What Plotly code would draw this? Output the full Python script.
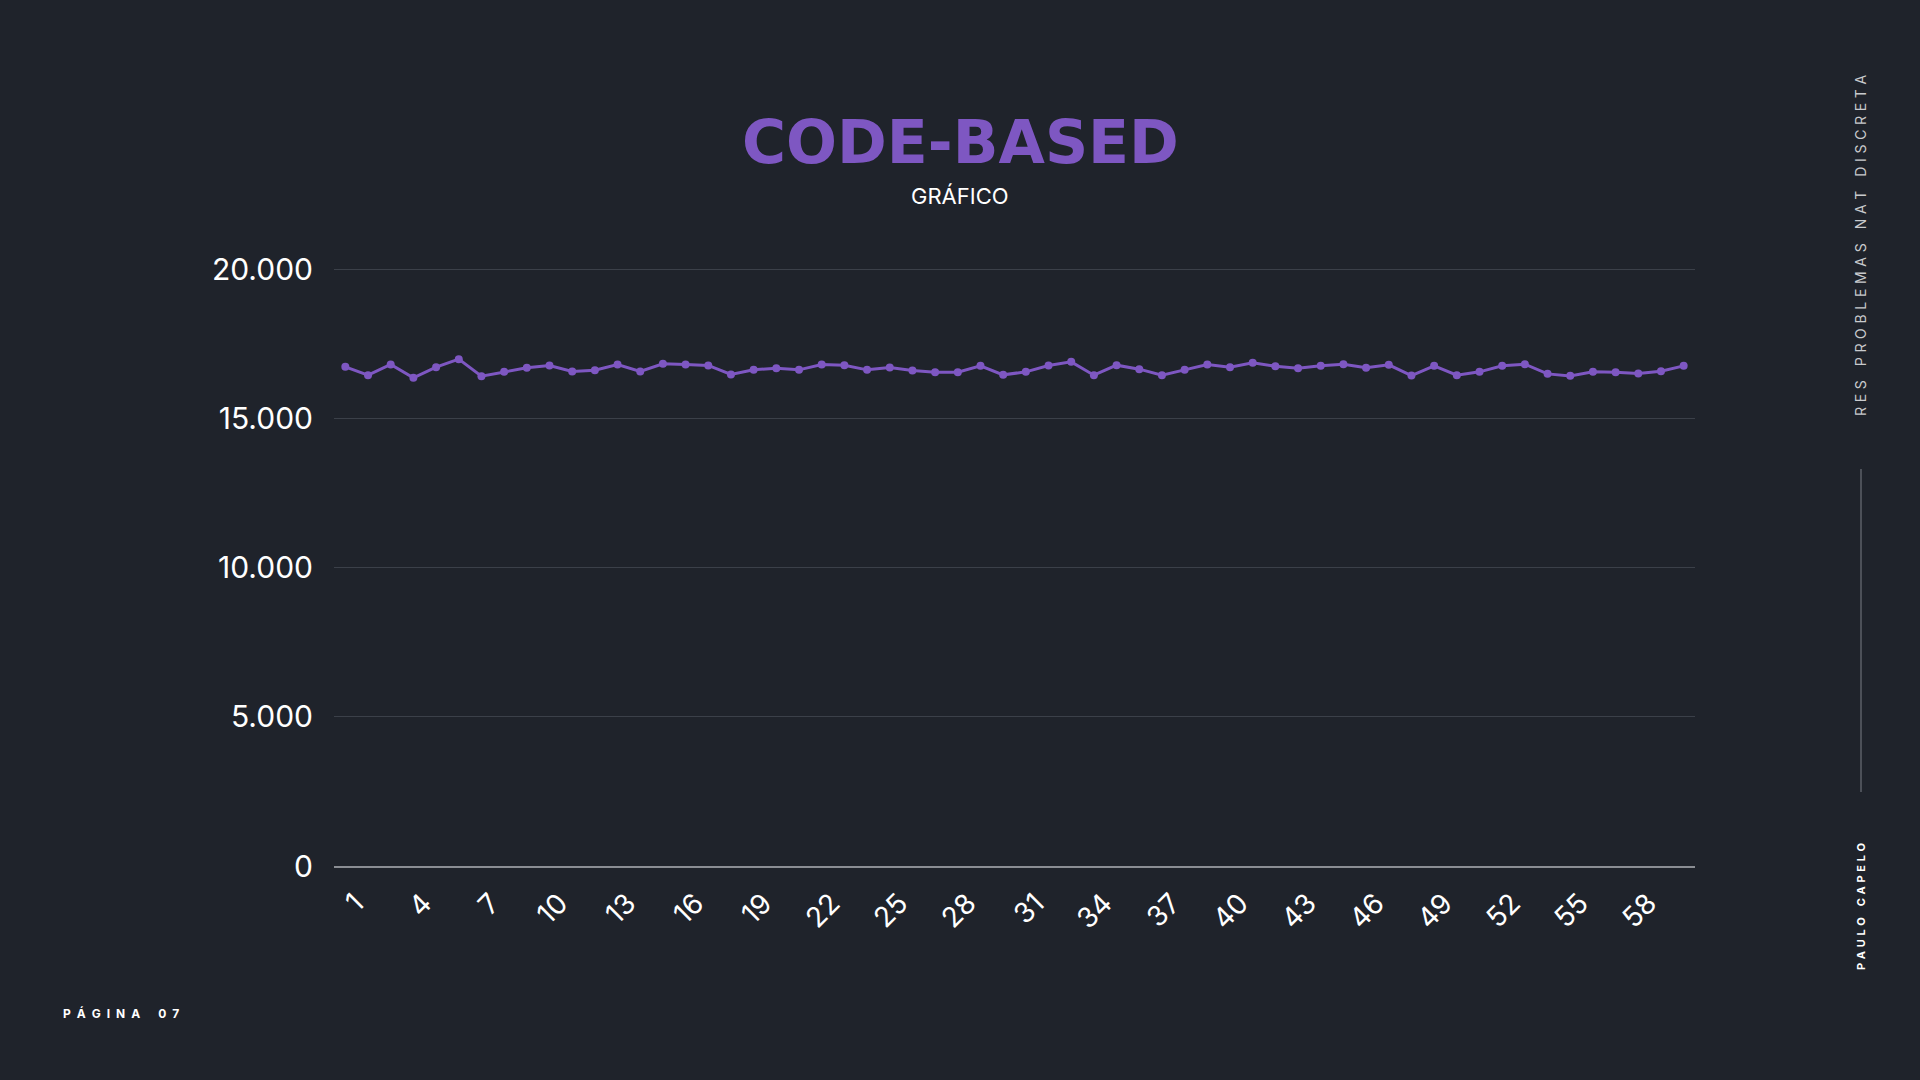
import plotly.graph_objects as go

# ---- data ----
categories = [str(i) for i in range(1, 61)]
values = [
    16727, 16448, 16807, 16358, 16717, 16985, 16415, 16560, 16694, 16774,
    16572, 16616, 16807, 16572, 16828, 16807, 16774, 16472, 16627, 16683,
    16627, 16807, 16784, 16627, 16706, 16605, 16549, 16549, 16761, 16459,
    16560, 16774, 16895, 16448, 16784, 16650, 16448, 16627, 16807, 16717,
    16862, 16750, 16683, 16761, 16817, 16694, 16795, 16437, 16761, 16448,
    16560, 16761, 16817, 16492, 16425, 16560, 16549, 16504, 16583, 16761,
]
y_ticks = [0, 5000, 10000, 15000, 20000]
x_tick_labels = [str(i) for i in range(1, 61, 3)]

BG = "#1f232b"
PURPLE = "#7e57c2"
FONT = "Inter"

L, R, T, B = 334, 225, 268, 214

fig = go.Figure()
fig.add_trace(go.Scatter(
    x=categories, y=values, mode="lines+markers",
    line=dict(color=PURPLE, width=3),
    marker=dict(color=PURPLE, size=8),
    hoverinfo="x+y", showlegend=False,
))

fig.update_layout(
    width=1920, height=1080,
    paper_bgcolor=BG, plot_bgcolor=BG,
    margin=dict(l=L, r=R, t=T, b=B),
    separators=",.",
    font=dict(family=FONT, color="#ffffff"),
    xaxis=dict(
        type="category", range=[-0.5, 59.5],
        tickmode="array", tickvals=x_tick_labels, ticktext=x_tick_labels,
        tickangle=-45, tickfont=dict(size=28, color="#ffffff", family=FONT),
        showgrid=False, zeroline=False, showline=True,
        linecolor="#8a8d93", linewidth=1.5, ticks="",
        ticklabelstandoff=8, ticklabelshift=10,
    ),
    yaxis=dict(
        range=[0, 20040], tickmode="array", tickvals=y_ticks,
        tickformat=",.0f",
        tickfont=dict(size=30, color="#ffffff", family=FONT),
        showgrid=True, gridcolor="#3b4049", gridwidth=1,
        zeroline=False, showline=False, ticks="",
        ticklabelstandoff=20,
    ),
)

def px_x(x):
    return (x - L) / (1920 - L - R)

def px_y(y):
    return (1080 - B - y) / (1080 - T - B)

SP3 = "\u2004"
SP2 = "\u2002"

def spaced(s, sp):
    return (sp + sp + sp).join(sp.join(list(w)) for w in s.split(" "))

annots = [
    dict(text="CODE-BASED", x=960, y=142,
         font=dict(size=60, color=PURPLE, family="DejaVu Sans", weight=800)),
    dict(text="GRÁFICO", x=960, y=196, font=dict(size=22, color="#ffffff", family=FONT)),
    dict(text=spaced("PÁGINA 07", SP2), x=121, y=1013,
         font=dict(size=12, color="#ffffff", family=FONT, weight=700)),
    dict(text=spaced("RES PROBLEMAS NAT DISCRETA", SP3), x=1861, y=245, textangle=-90,
         font=dict(size=14, color="#c8cacd", family=FONT)),
    dict(text=spaced("PAULO CAPELO", SP3), x=1861, y=907, textangle=-90,
         font=dict(size=11, color="#ffffff", family=FONT, weight=700)),
]
fig.layout.annotations = [
    dict(text=a["text"], x=px_x(a["x"]), y=px_y(a["y"]),
         xref="paper", yref="paper", xanchor="center", yanchor="middle",
         showarrow=False, font=a["font"], textangle=a.get("textangle", 0))
    for a in annots
]

fig.add_shape(type="line", xref="paper", yref="paper",
              x0=px_x(1861), x1=px_x(1861), y0=px_y(469), y1=px_y(792),
              line=dict(color="#5d6168", width=1.5))

fig.write_html("out.html")
